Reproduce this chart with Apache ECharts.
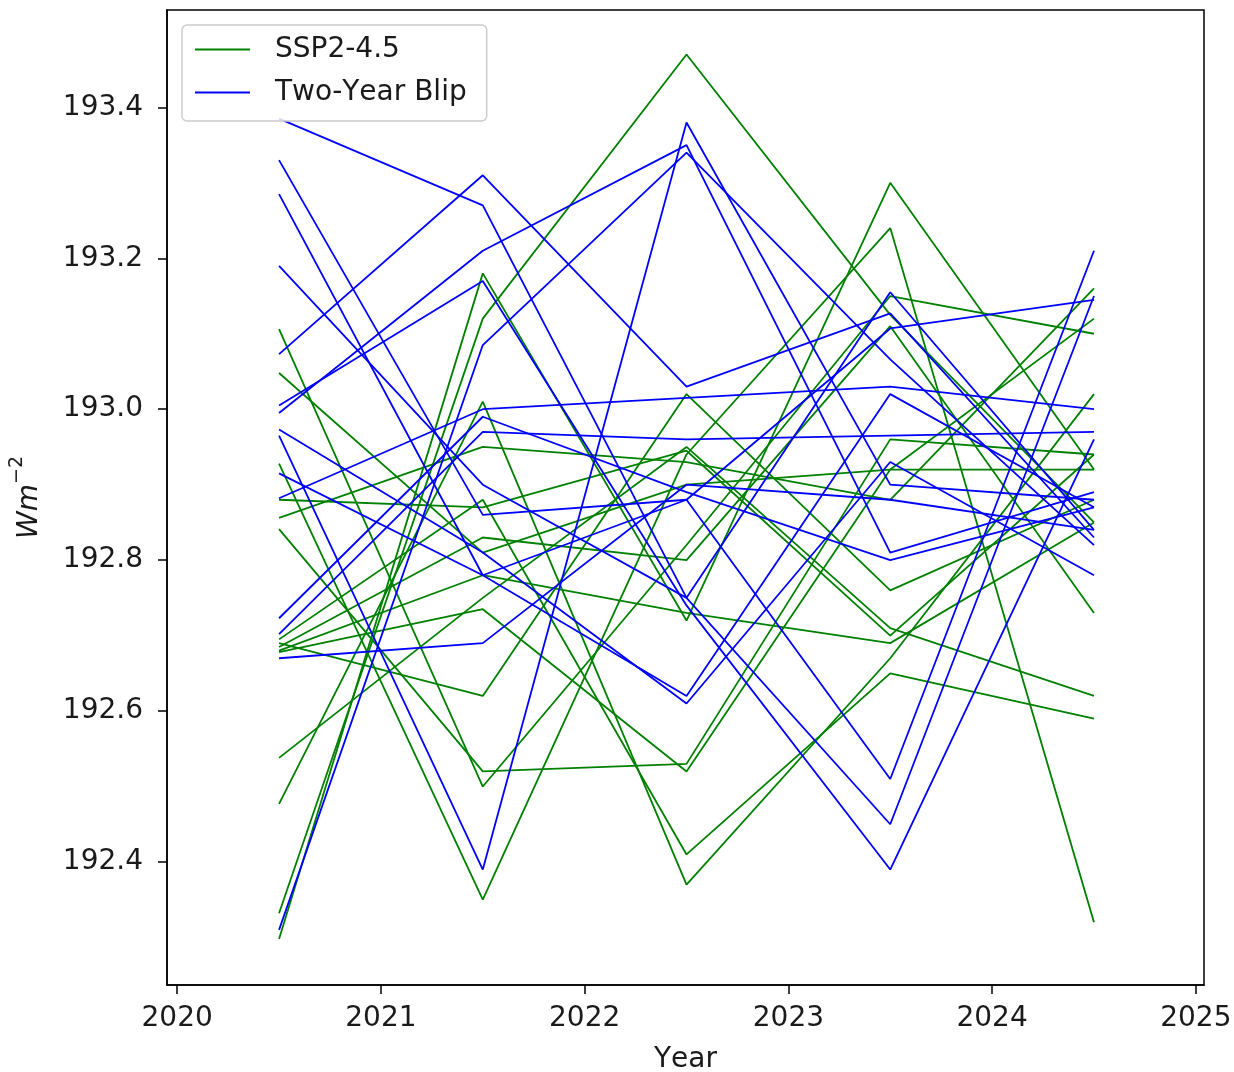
<!DOCTYPE html>
<html>
<head>
<meta charset="utf-8">
<script src="https://cdn.jsdelivr.net/npm/echarts@6/dist/echarts.min.js"></script>
<style>
html,body{margin:0;padding:0;background:#fff;}
#chart{width:1234px;height:1072px;}
</style>
</head>
<body>
<div id="chart"></div>
<script>
const years = [2020.5, 2021.5, 2022.5, 2023.5, 2024.5];
const xTicks = [2020, 2021, 2022, 2023, 2024, 2025];
const yTicks = [192.4, 192.6, 192.8, 193.0, 193.2, 193.4];

// SSP2-4.5 ensemble members
const ssp245 = [
  [192.332, 193.12, 193.47, 193.125, 192.85],
  [192.298, 193.18, 192.72, 193.30, 192.92],
  [192.928, 192.35, 192.94, 193.24, 192.32],
  [193.106, 192.50, 192.82, 193.15, 193.10],
  [192.841, 192.52, 192.53, 192.96, 192.94],
  [192.856, 192.95, 192.93, 192.88, 193.16],
  [193.048, 192.81, 192.90, 192.92, 192.92],
  [192.695, 192.88, 192.41, 192.65, 192.59],
  [192.538, 192.75, 192.95, 192.71, 192.62],
  [192.477, 193.01, 192.37, 192.67, 193.02],
  [192.69, 192.62, 193.02, 192.76, 192.88],
  [192.685, 192.83, 192.80, 193.11, 192.73],
  [192.68, 192.78, 192.73, 192.69, 192.85],
  [192.678, 192.735, 192.52, 192.92, 193.12],
  [192.88, 192.87, 192.945, 192.70, 192.94]
];

// Two-Year Blip ensemble members
const blip = [
  [193.385, 193.27, 192.75, 193.155, 192.84],
  [193.33, 192.86, 192.88, 192.51, 193.21],
  [193.285, 192.78, 192.62, 193.02, 192.87],
  [193.19, 192.90, 192.75, 192.45, 193.15],
  [193.073, 193.31, 193.03, 193.127, 192.83],
  [192.995, 193.21, 193.35, 192.81, 192.89],
  [192.31, 193.085, 193.34, 193.066, 192.82],
  [192.973, 192.81, 192.61, 192.93, 192.78],
  [192.965, 192.39, 193.38, 192.90, 192.88],
  [193.005, 193.17, 192.74, 192.39, 192.96],
  [192.882, 193.00, 193.015, 193.03, 193.00],
  [192.723, 192.99, 192.89, 192.80, 192.87],
  [192.702, 192.97, 192.96, 192.965, 192.97],
  [192.67, 192.69, 192.90, 192.88, 192.84],
  [192.915, 192.78, 192.88, 193.107, 193.145]
];

const GREEN = '#008000';
const BLUE = '#0000ff';
const FONT = 'DejaVu Sans';
const FS = 28;

// render text without pair kerning, like the original renderer
(function () {
  const orig = HTMLCanvasElement.prototype.getContext;
  HTMLCanvasElement.prototype.getContext = function (type, opts) {
    const ctx = orig.call(this, type, opts);
    if (ctx && type === '2d' && 'fontKerning' in ctx) {
      try { ctx.fontKerning = 'none'; } catch (e) {}
    }
    return ctx;
  };
})();

function mk(name, color, vals) {
  return {
    name: name,
    type: 'line',
    data: vals.map((v, i) => [years[i], v]),
    symbol: 'none',
    showSymbol: false,
    lineStyle: { color: color, width: 1.8 },
    itemStyle: { color: color },
    emphasis: { disabled: true },
    animation: false
  };
}

const series = [];
ssp245.forEach(r => series.push(mk('SSP2-4.5', GREEN, r)));
blip.forEach(r => series.push(mk('Two-Year Blip', BLUE, r)));

const chart = echarts.init(document.getElementById('chart'), null, { renderer: 'canvas' });
chart.setOption({
  animation: false,
  backgroundColor: '#ffffff',
  grid: {
    left: 167, right: 30, top: 10, bottom: 87,
    outerBoundsMode: 'none',
    containLabel: false,
    show: true, borderColor: '#000', borderWidth: 1.5, backgroundColor: 'transparent'
  },
  legend: {
    data: ['SSP2-4.5', 'Two-Year Blip'],
    orient: 'vertical',
    left: 182, top: 25,
    icon: 'rect',
    itemWidth: 55, itemHeight: 2,
    itemGap: 14,
    padding: [10, 20, 14, 13],
    backgroundColor: 'rgba(255,255,255,0.85)',
    borderColor: '#cccccc', borderWidth: 1.5, borderRadius: 5,
    textStyle: { fontFamily: FONT, fontSize: FS, color: '#1a1a1a', padding: [0, 0, 0, 20], lineHeight: 29 }
  },
  xAxis: {
    type: 'value',
    min: 2019.95, max: 2025.04,
    name: 'Year', nameLocation: 'middle', nameGap: 61,
    nameTextStyle: { fontFamily: FONT, fontSize: FS, color: '#1a1a1a' },
    axisLine: { show: true, onZero: false, lineStyle: { color: '#000', width: 1.5 } },
    axisTick: { show: true, length: 9, inside: false, customValues: xTicks, lineStyle: { color: '#000', width: 1.5 } },
    axisLabel: { customValues: xTicks, margin: 20, fontFamily: FONT, fontSize: FS, color: '#1a1a1a', formatter: v => String(Math.round(v)) },
    splitLine: { show: false }
  },
  yAxis: {
    type: 'value',
    min: 192.237, max: 193.529,
    name: '{i|Wm}{s|−2}', nameLocation: 'middle', nameGap: 123, nameRotate: 90,
    nameTextStyle: {
      fontFamily: FONT, color: '#1a1a1a',
      rich: {
        i: { fontFamily: FONT, fontSize: FS, fontStyle: 'italic', color: '#1a1a1a', verticalAlign: 'bottom', lineHeight: 36 },
        s: { fontFamily: FONT, fontSize: 19, color: '#1a1a1a', verticalAlign: 'top', lineHeight: 36 }
      }
    },
    axisLine: { show: true, onZero: false, lineStyle: { color: '#000', width: 1.5 } },
    axisTick: { show: true, length: 9, inside: false, customValues: yTicks, lineStyle: { color: '#000', width: 1.5 } },
    axisLabel: { customValues: yTicks, margin: 24, fontFamily: FONT, fontSize: FS, color: '#1a1a1a', formatter: v => v.toFixed(1) },
    splitLine: { show: false }
  },
  series: series
});
</script>
</body>
</html>
